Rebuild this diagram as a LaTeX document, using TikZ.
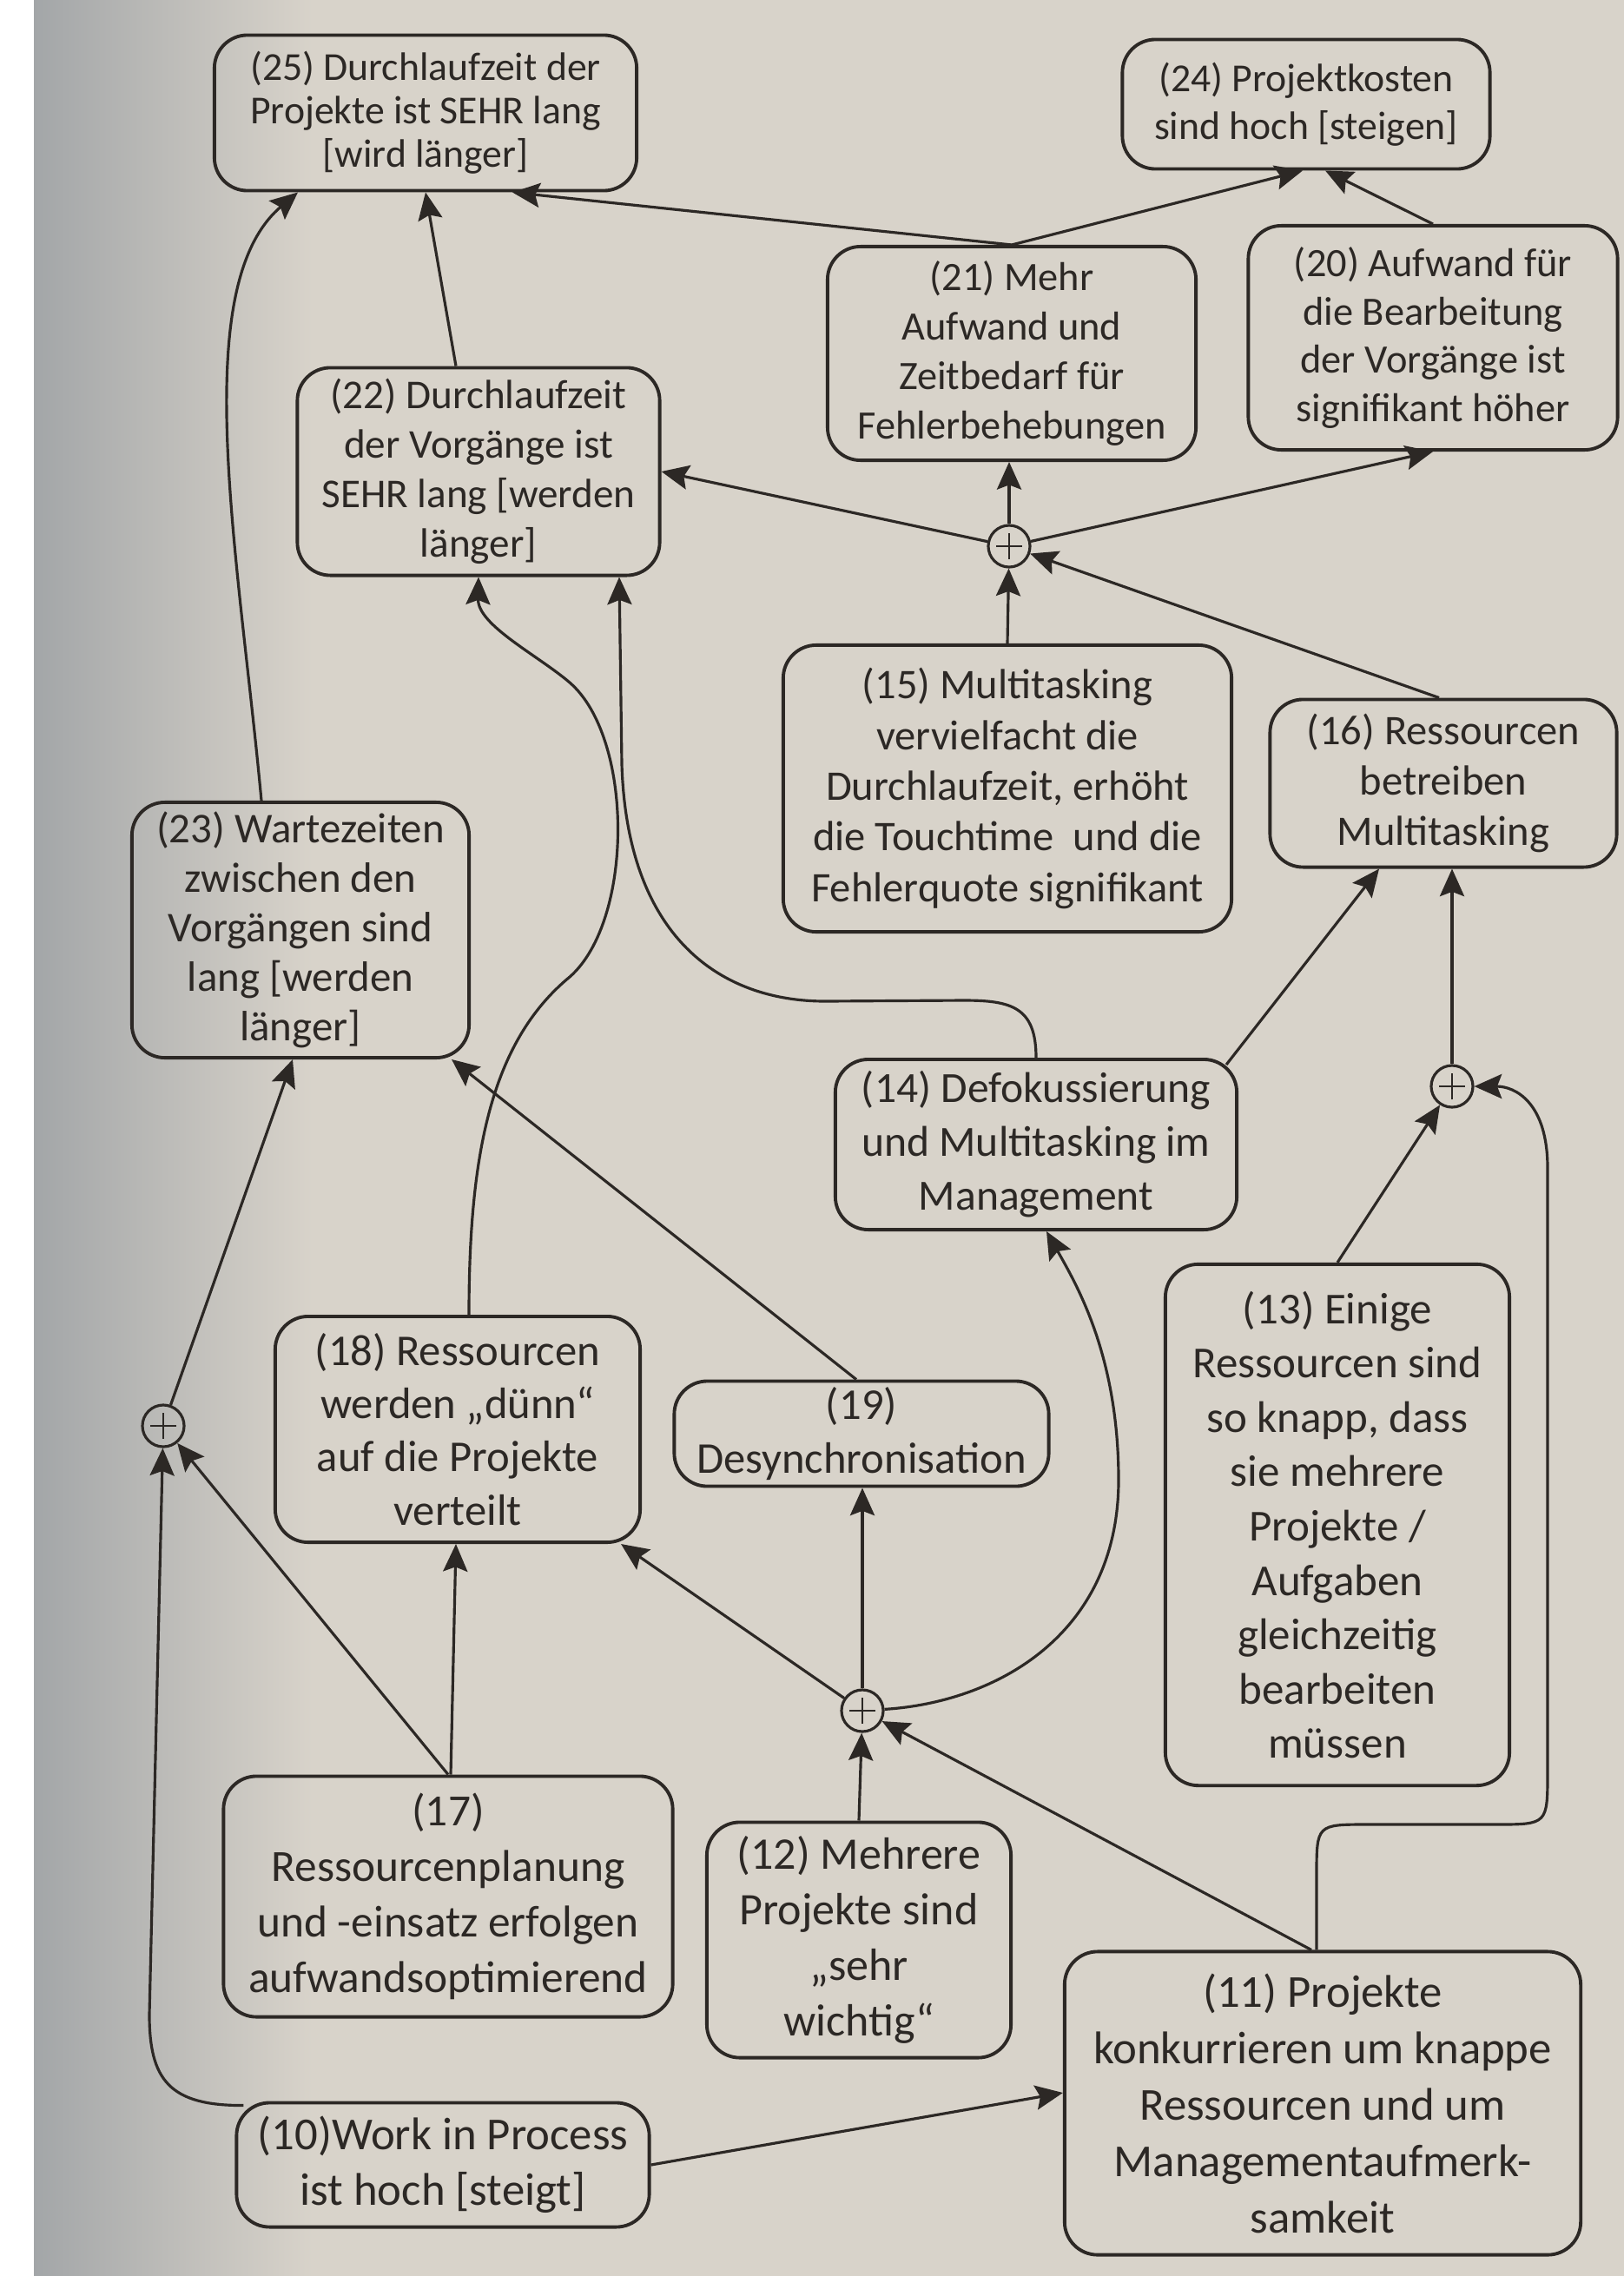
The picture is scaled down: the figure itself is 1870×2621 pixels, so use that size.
\documentclass[tikz,border=0pt]{standalone}
\usepackage{fontspec}
\setmainfont{Carlito}
\usetikzlibrary{arrows.meta,calc}
\definecolor{page}{HTML}{D8D3CA}
\definecolor{shadow}{HTML}{A3A6A8}
\definecolor{ink}{HTML}{2C2825}

\begin{document}
\begin{tikzpicture}[x=0.01cm,y=-0.01cm,
  cbox/.style={draw=ink, line width=1.1pt, rounded corners=0.38cm, align=center, text=ink, inner sep=0pt},
  fnt/.style n args={2}{font=\fontsize{#1}{#2}\selectfont},
  sumnode/.style={circle, draw=ink, line width=0.9pt, minimum size=0.48cm, inner sep=0pt,
    path picture={\draw[ink, line width=0.8pt]
      (path picture bounding box.center) ++(-0.15cm,0) -- ++(0.3cm,0)
      (path picture bounding box.center) ++(0,-0.15cm) -- ++(0,0.3cm);}},
  conn/.style={draw=ink, line width=0.9pt, -{Stealth[length=9pt,width=8pt,inset=1.5pt]}}
]
% page background with the darker gutter on the left
\fill[page] (0,0) rectangle (1870,2621);
\fill[white] (0,0) rectangle (39,2621);
\shade[left color=shadow, right color=page] (39,0) rectangle (360,2621);
\useasboundingbox (0,0) rectangle (1870,2621);

% boxes
\node[cbox, fnt={13}{14.2}, minimum width=4.86cm, minimum height=1.79cm] (n25) at (490,130)
  {(25) Durchlaufzeit der\\Projekte ist SEHR lang\\{}[wird länger]};
\node[cbox, fnt={13}{15.6}, minimum width=4.23cm, minimum height=1.49cm] (n24) at (1504,120)
  {(24) Projektkosten\\sind hoch [steigen]};
\node[cbox, fnt={13.2}{16.2}, minimum width=4.24cm, minimum height=2.46cm] (n21) at (1165,407)
  {(21) Mehr\\Aufwand und\\Zeitbedarf für\\Fehlerbehebungen};
\node[cbox, fnt={13.2}{15.8}, minimum width=4.25cm, minimum height=2.58cm] (n20) at (1650,389)
  {(20) Aufwand für\\die Bearbeitung\\der Vorgänge ist\\signifikant höher};
\node[cbox, fnt={13.4}{16.2}, minimum width=4.17cm, minimum height=2.39cm] (n22) at (551,543)
  {(22) Durchlaufzeit\\der Vorgänge ist\\SEHR lang [werden\\länger]};
\node[cbox, fnt={13.8}{16.6}, minimum width=5.16cm, minimum height=3.30cm] (n15) at (1160,908)
  {(15) Multitasking\\vervielfacht die\\Durchlaufzeit, erhöht\\die Touchtime\ \ und die\\Fehlerquote signifikant};
\node[cbox, fnt={13.8}{16.6}, minimum width=3.99cm, minimum height=1.93cm] (n16) at (1662,902)
  {(16) Ressourcen\\betreiben\\Multitasking};
\node[cbox, fnt={13.9}{16.2}, minimum width=3.88cm, minimum height=2.94cm] (n23) at (346,1071)
  {(23) Wartezeiten\\zwischen den\\Vorgängen sind\\lang [werden\\länger]};
\node[cbox, fnt={14.1}{17.6}, minimum width=4.62cm, minimum height=1.96cm] (n14) at (1193,1318)
  {(14) Defokussierung\\und Multitasking im\\Management};
\node[cbox, fnt={14.5}{17.8}, minimum width=3.96cm, minimum height=6.00cm] (n13) at (1540,1756)
  {(13) Einige\\Ressourcen sind\\so knapp, dass\\sie mehrere\\Projekte /\\Aufgaben\\gleichzeitig\\bearbeiten\\müssen};
\node[cbox, fnt={14.4}{17.4}, minimum width=4.20cm, minimum height=2.60cm] (n18) at (527,1646)
  {(18) Ressourcen\\werden „dünn“\\auf die Projekte\\verteilt};
\node[cbox, fnt={14.4}{17.4}, minimum width=4.31cm, minimum height=1.21cm] (n19) at (992,1651)
  {(19)\\Desynchronisation};
\node[cbox, fnt={14.6}{18.2}, minimum width=5.17cm, minimum height=2.77cm] (n17) at (516,2184)
  {(17)\\Ressourcenplanung\\und -einsatz erfolgen\\aufwandsoptimierend};
\node[cbox, fnt={14.8}{18.2}, minimum width=3.50cm, minimum height=2.71cm] (n12) at (989,2234)
  {(12) Mehrere\\Projekte sind\\„sehr\\wichtig“};
\node[cbox, fnt={15}{18.5}, minimum width=5.94cm, minimum height=3.49cm] (n11) at (1523,2422)
  {(11) Projekte\\konkurrieren um knappe\\Ressourcen und um\\Managementaufmerk-\\samkeit};
\node[cbox, fnt={15}{18.1}, minimum width=4.75cm, minimum height=1.43cm] (n10) at (510,2493)
  {(10)Work in Process\\ist hoch [steigt]};

% summing junctions
\node[sumnode] (p1) at (1162,629) {};
\node[sumnode] (p2) at (1672,1251) {};
\node[sumnode] (p3) at (188,1642) {};
\node[sumnode] (p4) at (993,1970) {};

% top level
\draw[conn] (n21.north) -- ($(n25.south)+(100,0)$);
\draw[conn] (n21.north) -- ($(n24.south)+(-4,0)$);
\draw[conn] (n20.north) -- ($(n24.south)+(22,0)$);
\draw[conn] ($(n22.north)+(-26,0)$) -- (n25.south);
\draw[conn] ($(n23.north)+(-45,0)$) .. controls (275,640) and (215,330) .. ($(n25.south)+(-147,0)$);

% junction p1
\draw[conn] (n15.north) -- (p1);
\draw[conn] ($(n16.north)+(-5,0)$) -- (p1);
\draw[conn] (p1) -- (p1 |- n21.south);
\draw[conn] (p1) -- (n22.east);
\draw[conn] (p1) -- (n20.south);

% long curves into (22)
\draw[conn] (n14.north) .. controls (1193,1160) and (1165,1152) .. (1110,1152) -- (950,1153)
  .. controls (830,1153) and (722,1080) .. (716,880) -- ($(n22.south)+(162,0)$);
\draw[conn] ($(n18.north)+(13,0)$) .. controls (540,1330) and (565,1200) .. (656,1125)
  .. controls (730,1060) and (730,850) .. (656,786)
  .. controls (620,755) and (550,720) .. (n22.south);

% into (23)
\draw[conn] ($(n19.north)+(-6,0)$) -- ($(n23.south east)+(-22,0)$);
\draw[conn] (p3) -- ($(n23.south)+(-9,0)$);

% into (16)
\draw[conn] ($(n14.north east)+(-14,8)$) -- ($(n16.south)+(-74,0)$);
\draw[conn] (p2) -- (p2 |- n16.south);
\draw[conn] (n13.north) -- (p2);
\draw[conn] ($(n11.north)+(-7,0)$) -- (1516,2160) .. controls (1516,2101) .. (1575,2101) -- (1722,2101)
  .. controls (1782,2101) .. (1782,2040) -- (1782,1345) .. controls (1782,1270) and (1745,1251) .. (p2);

% junction p4
\draw[conn] (p4) -- ($(n18.south east)+(-24,0)$);
\draw[conn] (p4) -- (p4 |- n19.south);
\draw[conn] (n12.north) -- (p4);
\draw[conn] ($(n11.north)+(-13,0)$) -- (p4);
\draw[conn] (p4) .. controls (1150,1960) and (1290,1880) .. (1288,1700)
  .. controls (1287,1560) and (1240,1480) .. ($(n14.south)+(12,0)$);

% bottom left
\draw[conn] ($(n10.north west)+(10,5)$) .. controls (195,2425) and (172,2395) .. (172,2320) -- (p3);
\draw[conn] (n17.north) -- (p3);
\draw[conn] ($(n17.north)+(3,0)$) -- ($(n18.south)+(-2,0)$);
\draw[conn] (n10.east) -- ($(n11.west)+(0,-12)$);
\end{tikzpicture}
\end{document}
